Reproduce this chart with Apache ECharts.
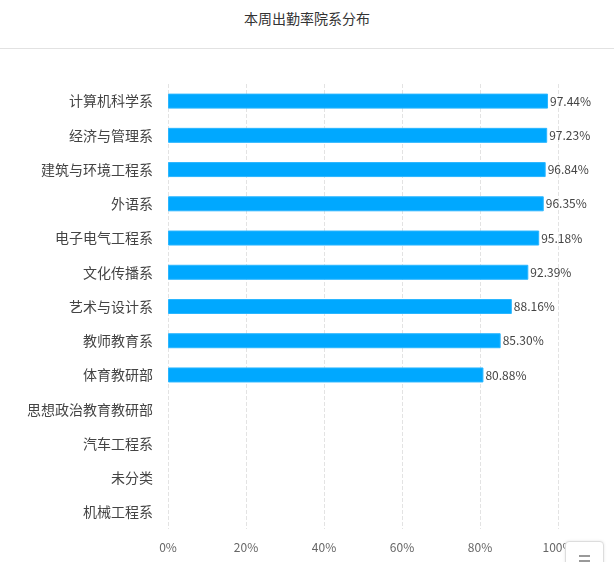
<!DOCTYPE html>
<html>
<head>
<meta charset="utf-8">
<script src="https://cdn.jsdelivr.net/npm/echarts@6/dist/echarts.min.js"></script>
<style>
    html,body{margin:0;padding:0;background:#fff;}
    #wrap{position:relative;width:614px;height:562px;overflow:hidden;font-family:"Noto Sans CJK SC",sans-serif;}
    .chart-head{position:absolute;left:0;top:0;width:614px;height:48px;border-bottom:1px solid #e2e2e2;
        text-align:center;line-height:36px;font-size:14px;color:#333;}
    #chart{position:absolute;left:0;top:0;width:614px;height:562px;}
    .menu-btn{position:absolute;left:565px;top:541px;width:37px;height:30px;border:1px solid #ddd;border-radius:4px;
        background:#fff;box-shadow:0 0 3px rgba(0,0,0,0.1);}
    .menu-btn i{position:absolute;left:13px;width:11px;height:2px;background:#999;}
</style>
</head>
<body>
<div id="wrap">
    <div class="chart-head">本周出勤率院系分布</div>
    <div id="chart"></div>
    <div class="menu-btn"><i style="top:13px"></i><i style="top:18px"></i></div>
</div>
<script>
// 院系
let deptNames = ['计算机科学系','经济与管理系','建筑与环境工程系','外语系','电子电气工程系','文化传播系',
    '艺术与设计系','教师教育系','体育教研部','思想政治教育教研部','汽车工程系','未分类','机械工程系'];
// 出勤率 %
let rateList = [97.44, 97.23, 96.84, 96.35, 95.18, 92.39, 88.16, 85.30, 80.88, null, null, null, null];
let tickList = [0, 20, 40, 60, 80, 100];

let chart = echarts.init(document.getElementById('chart'));
let option = {
    animation: false,
    textStyle: {fontFamily: '"Noto Sans CJK SC", sans-serif'},
    grid: {left: 168, right: 56, top: 84, bottom: 33},
    xAxis: {
        type: 'value',
        min: tickList[0],
        max: tickList[tickList.length - 1],
        interval: 20,
        axisLine: {show: false},
        axisTick: {show: false},
        splitLine: {show: true, lineStyle: {type: 'dashed', color: '#e3e3e3'}},
        axisLabel: {color: '#666', fontSize: 12, margin: 12, formatter: '{value}%'}
    },
    yAxis: {
        type: 'category',
        inverse: true,
        data: deptNames,
        axisLine: {show: false},
        axisTick: {show: false},
        axisLabel: {color: '#444', fontSize: 14, margin: 15}
    },
    series: [{
        type: 'bar',
        data: rateList.map(function (v) { return v == null ? '-' : v; }),
        barWidth: 15,
        itemStyle: {color: '#00a8ff', borderColor: '#2ab6ff', borderWidth: 1},
        label: {
            show: true,
            position: 'right',
            distance: 2,
            color: '#444',
            fontSize: 12,
            formatter: function (p) { return p.value.toFixed(2) + '%'; }
        }
    }]
};
chart.setOption(option);
</script>
</body>
</html>
